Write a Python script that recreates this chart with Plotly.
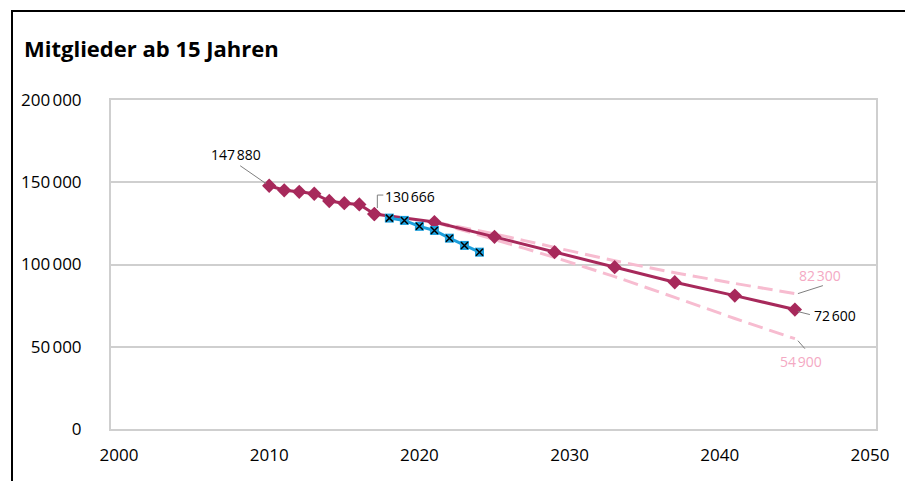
import plotly.graph_objects as go

# ---- data ----
hist_years = [2010, 2011, 2012, 2013, 2014, 2015, 2016, 2017]
hist_vals = [147880, 145100, 144200, 143000, 138600, 137300, 136500, 130666]

proj_years = [2017, 2021, 2025, 2029, 2033, 2037, 2041, 2045]
proj_vals = [130666, 125800, 116800, 107500, 98400, 89200, 81100, 72600]

high_years = [2021, 2025, 2029, 2033, 2037, 2041, 2045]
high_vals = [125800, 118600, 110400, 102300, 95000, 88500, 82300]

low_years = [2021, 2025, 2029, 2033, 2037, 2041, 2045]
low_vals = [125800, 115200, 104300, 92600, 80000, 67200, 54900]

actual_years = [2018, 2019, 2020, 2021, 2022, 2023, 2024]
actual_vals = [128200, 126800, 123200, 120700, 116000, 111600, 107500]

y_ticks = [0, 50000, 100000, 150000, 200000]
y_ticktext = ["0", "50\u202f000", "100\u202f000", "150\u202f000", "200\u202f000"]
x_ticks = [2000, 2010, 2020, 2030, 2040, 2050]

title_text = "Mitglieder ab 15 Jahren"

MAROON = "#a7295b"
PINK = "#f7bcd0"
PINK_TXT = "#f4a9c3"
BLUE = "#1d9fdc"
GRID = "#cfcfcf"
FONT = "Open Sans, Noto Sans, sans-serif"

# page offset (body margin) and plot-area pixel box
OFF = 8
PL, PR, PT, PB = 111, 876, 100, 429
W, H = 913 - OFF, 481 - OFF


def fmt(v):
    return f"{v:,}".replace(",", "\u202f")


fig = go.Figure()

# projection bands (dashed pink, smoothed)
for xs, ys in [(high_years, high_vals), (low_years, low_vals)]:
    fig.add_trace(go.Scatter(x=xs, y=ys, mode="lines",
                             line=dict(color=PINK, width=3, dash="15px,7px", shape="spline", smoothing=0.4),
                             hoverinfo="skip", showlegend=False))

# projection main line
fig.add_trace(go.Scatter(x=proj_years, y=proj_vals, mode="lines+markers",
                         line=dict(color=MAROON, width=3),
                         marker=dict(symbol="diamond", size=11, color=MAROON,
                                     line=dict(width=0)),
                         showlegend=False))
# history
fig.add_trace(go.Scatter(x=hist_years, y=hist_vals, mode="lines+markers",
                         line=dict(color=MAROON, width=3),
                         marker=dict(symbol="diamond", size=11, color=MAROON,
                                     line=dict(width=0)),
                         showlegend=False))
# actual (blue)
fig.add_trace(go.Scatter(x=actual_years, y=actual_vals, mode="lines+markers",
                         line=dict(color=BLUE, width=3),
                         marker=dict(symbol="square", size=9, color=BLUE, line=dict(width=0)),
                         showlegend=False))
fig.add_trace(go.Scatter(x=actual_years, y=actual_vals, mode="markers",
                         marker=dict(symbol="x-thin", size=7, color="black",
                                     line=dict(width=1.5, color="black")),
                         showlegend=False, hoverinfo="skip"))

# ---- labels with leader lines ----
labels = [
    (hist_years[0], hist_vals[0], fmt(hist_vals[0]), "black", (-33, 31), "M-3,2 L-29,20"),
    (hist_years[-1], hist_vals[-1], fmt(hist_vals[-1]), "black", (36, 18), "M3,6 L3,19 L9,19"),
    (proj_years[-1], proj_vals[-1], fmt(proj_vals[-1]), "black", (40, -6), "M3,-2 L15,-5"),
    (high_years[-1], high_vals[-1], fmt(high_vals[-1]), PINK_TXT, (25, 18), "M3,0 L28,8"),
    (low_years[-1], low_vals[-1], fmt(low_vals[-1]), PINK_TXT, (6, -23), "M3,-2 L10,-10"),
]
for x, y, t, c, (dx, dy), path in labels:
    fig.add_annotation(x=x, y=y, text=t, showarrow=False, xshift=dx, yshift=dy,
                       font=dict(family=FONT, size=14, color=c))
    fig.add_shape(type="path", xref="x", yref="y", xsizemode="pixel", ysizemode="pixel",
                  xanchor=x, yanchor=y, path=path,
                  line=dict(color="#7f7f7f", width=1))

pw, ph = PR - PL, PB - PT

# title
fig.add_annotation(xref="paper", yref="paper", x=(22 - PL) / pw, y=(PB - 48) / ph,
                   xanchor="left", yanchor="middle", text="<b>" + title_text + "</b>",
                   showarrow=False, font=dict(family=FONT, size=22, color="black"))

# outer frame
fig.add_shape(type="rect", xref="paper", yref="paper",
              x0=(12 - PL) / pw, x1=(906 - PL) / pw,
              y0=(PB - 490) / ph, y1=(PB - 11) / ph,
              line=dict(color="black", width=2), fillcolor="rgba(0,0,0,0)", layer="above")

fig.update_layout(
    width=W, height=H,
    margin=dict(l=PL - OFF, r=913 - PR, t=PT - OFF, b=481 - PB),
    paper_bgcolor="white", plot_bgcolor="white",
    font=dict(family=FONT, size=17, color="black"),
    showlegend=False,
)
fig.update_xaxes(range=[2000 - 8 / 15.02, 2050 + 6 / 15.02], tickvals=x_ticks,
                 ticktext=[str(v) for v in x_ticks], showgrid=False, zeroline=False,
                 showline=True, mirror=True, linecolor=GRID, linewidth=2,
                 ticks="", ticklabelstandoff=10, tickfont=dict(size=17))
fig.update_yaxes(range=[0, 200000], tickvals=y_ticks, ticktext=y_ticktext,
                 showgrid=True, gridcolor=GRID, gridwidth=2, zeroline=False,
                 showline=True, mirror=True, linecolor=GRID, linewidth=2,
                 ticks="", ticklabelstandoff=24, tickfont=dict(size=17))

fig.write_html("out.html")
